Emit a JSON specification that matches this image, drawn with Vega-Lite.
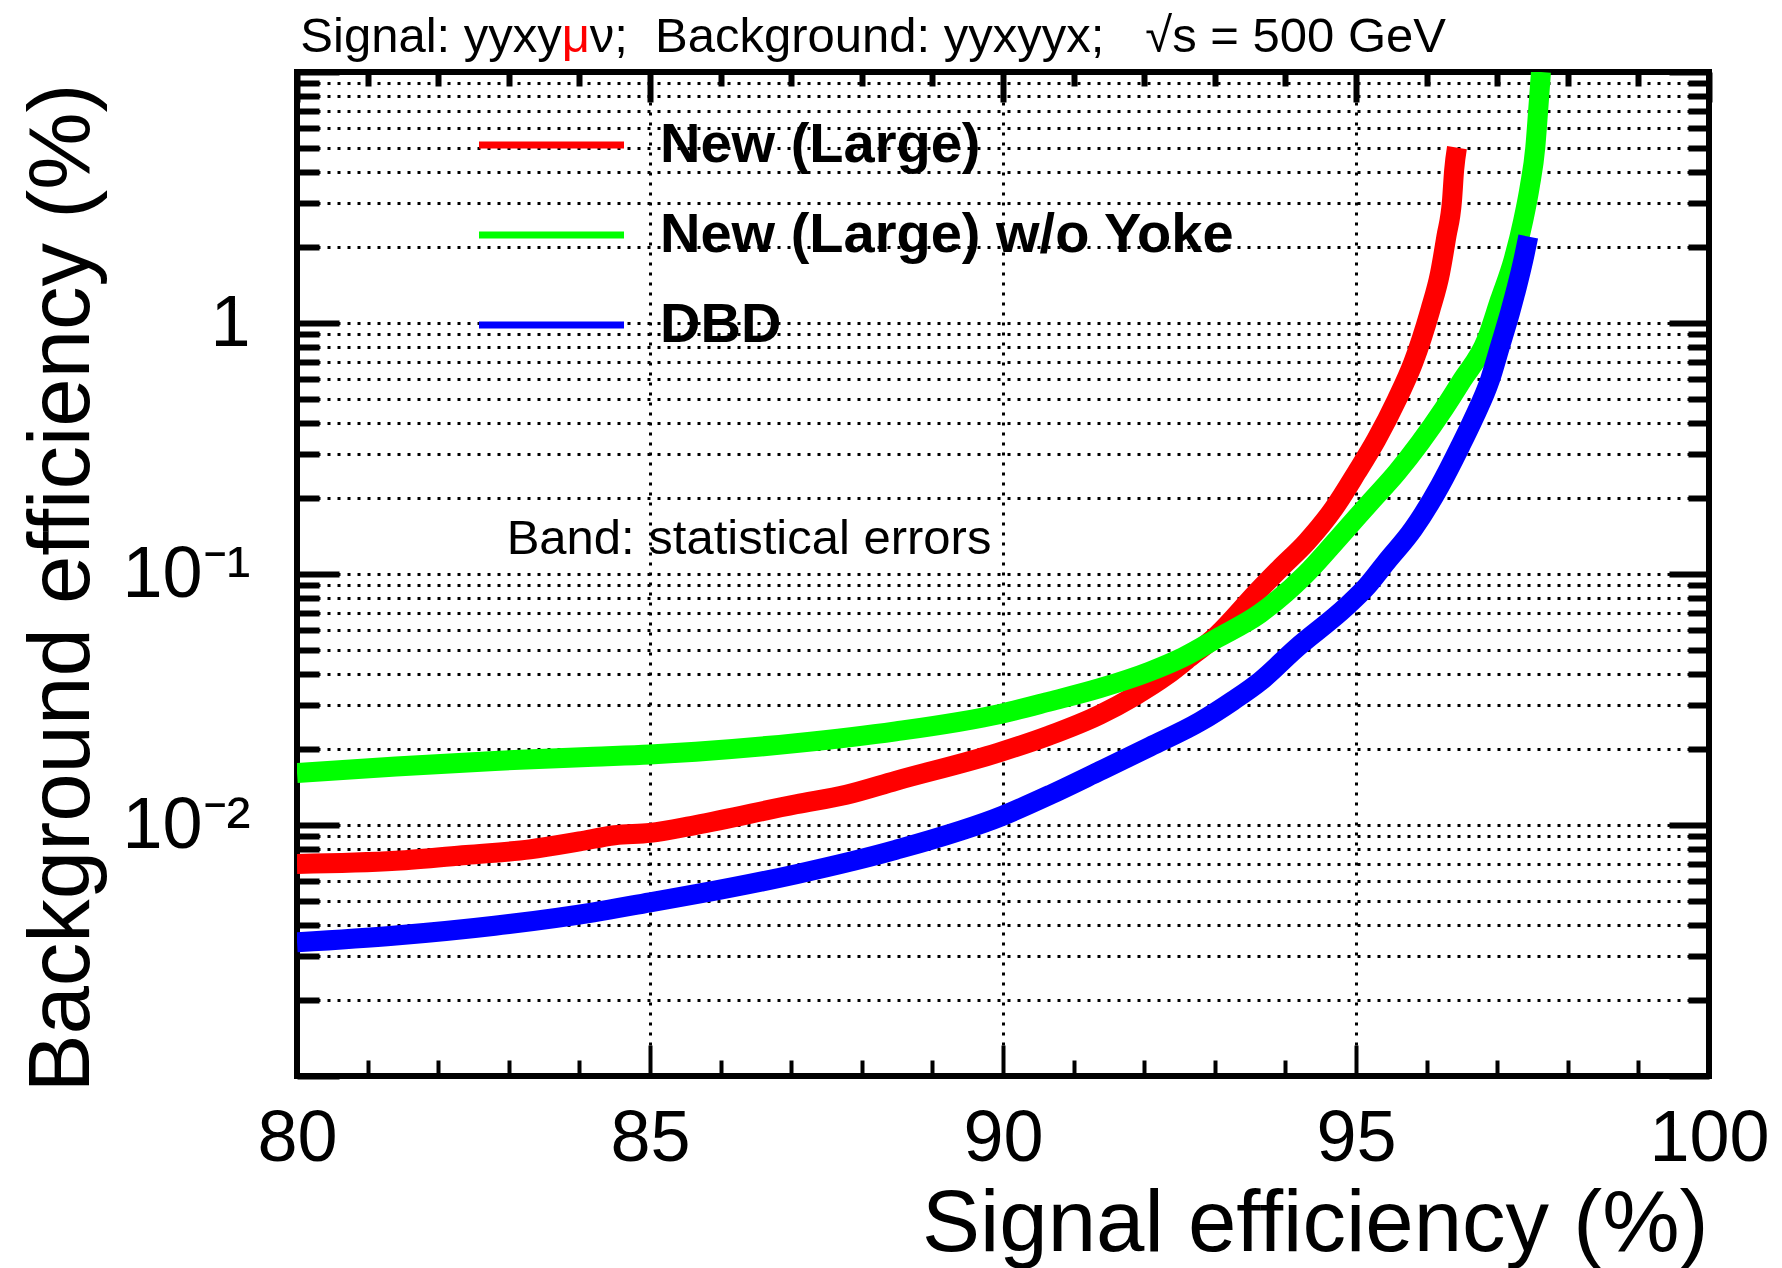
{
  "$schema": "https://vega.github.io/schema/vega-lite/v6.json",
  "width": 1412,
  "height": 1004,
  "autosize": {"type": "none"},
  "padding": {"left": 297, "top": 72, "right": 73, "bottom": 192},
  "background": "white",
  "config": {
    "font": "Liberation Sans",
    "view": {"stroke": "black", "strokeWidth": 6}
  },
  "datasets": {
    "curves": [
      {"detector": "New (Large)", "signal": 80.0, "background": 0.0070},
      {"detector": "New (Large)", "signal": 81.4, "background": 0.0072},
      {"detector": "New (Large)", "signal": 82.4, "background": 0.0076},
      {"detector": "New (Large)", "signal": 83.3, "background": 0.0080},
      {"detector": "New (Large)", "signal": 84.0, "background": 0.0086},
      {"detector": "New (Large)", "signal": 84.5, "background": 0.0091},
      {"detector": "New (Large)", "signal": 85.0, "background": 0.0093},
      {"detector": "New (Large)", "signal": 85.65, "background": 0.0100},
      {"detector": "New (Large)", "signal": 87.07, "background": 0.0121},
      {"detector": "New (Large)", "signal": 87.78, "background": 0.0132},
      {"detector": "New (Large)", "signal": 88.48, "background": 0.0150},
      {"detector": "New (Large)", "signal": 89.93, "background": 0.0194},
      {"detector": "New (Large)", "signal": 90.65, "background": 0.0227},
      {"detector": "New (Large)", "signal": 91.37, "background": 0.0275},
      {"detector": "New (Large)", "signal": 91.85, "background": 0.0325},
      {"detector": "New (Large)", "signal": 92.32, "background": 0.0395},
      {"detector": "New (Large)", "signal": 92.6, "background": 0.0455},
      {"detector": "New (Large)", "signal": 93.03, "background": 0.0570},
      {"detector": "New (Large)", "signal": 93.62, "background": 0.0860},
      {"detector": "New (Large)", "signal": 93.92, "background": 0.105},
      {"detector": "New (Large)", "signal": 94.3, "background": 0.134},
      {"detector": "New (Large)", "signal": 94.68, "background": 0.1815},
      {"detector": "New (Large)", "signal": 95.01, "background": 0.254},
      {"detector": "New (Large)", "signal": 95.29, "background": 0.344},
      {"detector": "New (Large)", "signal": 95.58, "background": 0.496},
      {"detector": "New (Large)", "signal": 95.81, "background": 0.694},
      {"detector": "New (Large)", "signal": 96.05, "background": 1.12},
      {"detector": "New (Large)", "signal": 96.19, "background": 1.578},
      {"detector": "New (Large)", "signal": 96.28, "background": 2.21},
      {"detector": "New (Large)", "signal": 96.36, "background": 3.08},
      {"detector": "New (Large)", "signal": 96.39, "background": 4.06},
      {"detector": "New (Large)", "signal": 96.43, "background": 5.0},

      {"detector": "New (Large) w/o Yoke", "signal": 80.0, "background": 0.0161},
      {"detector": "New (Large) w/o Yoke", "signal": 81.4, "background": 0.0171},
      {"detector": "New (Large) w/o Yoke", "signal": 82.8, "background": 0.0180},
      {"detector": "New (Large) w/o Yoke", "signal": 84.2, "background": 0.0187},
      {"detector": "New (Large) w/o Yoke", "signal": 85.0, "background": 0.0191},
      {"detector": "New (Large) w/o Yoke", "signal": 85.65, "background": 0.0196},
      {"detector": "New (Large) w/o Yoke", "signal": 87.07, "background": 0.0212},
      {"detector": "New (Large) w/o Yoke", "signal": 88.48, "background": 0.0236},
      {"detector": "New (Large) w/o Yoke", "signal": 89.96, "background": 0.0277},
      {"detector": "New (Large) w/o Yoke", "signal": 90.67, "background": 0.0311},
      {"detector": "New (Large) w/o Yoke", "signal": 91.37, "background": 0.0351},
      {"detector": "New (Large) w/o Yoke", "signal": 92.08, "background": 0.0409},
      {"detector": "New (Large) w/o Yoke", "signal": 92.55, "background": 0.0466},
      {"detector": "New (Large) w/o Yoke", "signal": 93.03, "background": 0.0554},
      {"detector": "New (Large) w/o Yoke", "signal": 93.64, "background": 0.0696},
      {"detector": "New (Large) w/o Yoke", "signal": 94.29, "background": 0.100},
      {"detector": "New (Large) w/o Yoke", "signal": 94.77, "background": 0.141},
      {"detector": "New (Large) w/o Yoke", "signal": 95.2, "background": 0.193},
      {"detector": "New (Large) w/o Yoke", "signal": 95.58, "background": 0.254},
      {"detector": "New (Large) w/o Yoke", "signal": 95.91, "background": 0.334},
      {"detector": "New (Large) w/o Yoke", "signal": 96.24, "background": 0.453},
      {"detector": "New (Large) w/o Yoke", "signal": 96.5, "background": 0.590},
      {"detector": "New (Large) w/o Yoke", "signal": 96.85, "background": 0.858},
      {"detector": "New (Large) w/o Yoke", "signal": 97.04, "background": 1.237},
      {"detector": "New (Large) w/o Yoke", "signal": 97.23, "background": 1.78},
      {"detector": "New (Large) w/o Yoke", "signal": 97.37, "background": 2.57},
      {"detector": "New (Large) w/o Yoke", "signal": 97.46, "background": 3.48},
      {"detector": "New (Large) w/o Yoke", "signal": 97.54, "background": 5.02},
      {"detector": "New (Large) w/o Yoke", "signal": 97.58, "background": 7.02},
      {"detector": "New (Large) w/o Yoke", "signal": 97.62, "background": 10.0},

      {"detector": "DBD", "signal": 80.0, "background": 0.00341},
      {"detector": "DBD", "signal": 81.4, "background": 0.00363},
      {"detector": "DBD", "signal": 82.8, "background": 0.00397},
      {"detector": "DBD", "signal": 84.2, "background": 0.00449},
      {"detector": "DBD", "signal": 85.0, "background": 0.00492},
      {"detector": "DBD", "signal": 85.65, "background": 0.00530},
      {"detector": "DBD", "signal": 87.07, "background": 0.00637},
      {"detector": "DBD", "signal": 88.48, "background": 0.00796},
      {"detector": "DBD", "signal": 90.0, "background": 0.0109},
      {"detector": "DBD", "signal": 90.67, "background": 0.0132},
      {"detector": "DBD", "signal": 91.37, "background": 0.0164},
      {"detector": "DBD", "signal": 92.08, "background": 0.0205},
      {"detector": "DBD", "signal": 92.79, "background": 0.0258},
      {"detector": "DBD", "signal": 93.26, "background": 0.0313},
      {"detector": "DBD", "signal": 93.64, "background": 0.0373},
      {"detector": "DBD", "signal": 94.15, "background": 0.0505},
      {"detector": "DBD", "signal": 94.86, "background": 0.074},
      {"detector": "DBD", "signal": 95.15, "background": 0.089},
      {"detector": "DBD", "signal": 95.43, "background": 0.1116},
      {"detector": "DBD", "signal": 95.81, "background": 0.151},
      {"detector": "DBD", "signal": 96.19, "background": 0.225},
      {"detector": "DBD", "signal": 96.47, "background": 0.320},
      {"detector": "DBD", "signal": 96.66, "background": 0.413},
      {"detector": "DBD", "signal": 96.9, "background": 0.596},
      {"detector": "DBD", "signal": 97.04, "background": 0.807},
      {"detector": "DBD", "signal": 97.18, "background": 1.096},
      {"detector": "DBD", "signal": 97.28, "background": 1.397},
      {"detector": "DBD", "signal": 97.37, "background": 1.78},
      {"detector": "DBD", "signal": 97.44, "background": 2.21}
    ]
  },
  "layer": [
    {
      "data": {"name": "curves"},
      "mark": {"type": "line", "strokeWidth": 20, "interpolate": "monotone", "clip": true, "strokeCap": "butt"},
      "encoding": {
        "x": {
          "field": "signal", "type": "quantitative",
          "scale": {"domain": [80, 100], "nice": false, "zero": false},
          "axis": {
            "orient": "bottom",
            "values": [80,81,82,83,84,85,86,87,88,89,90,91,92,93,94,95,96,97,98,99,100],
            "labelExpr": "datum.value % 5 === 0 ? datum.label : ''",
            "labelFontSize": 72, "labelColor": "black", "labelFont": "Liberation Sans",
            "labelBaseline": "alphabetic", "labelPadding": 115,
            "labelFlush": false, "labelOverlap": false, "labelBound": false,
            "tickSize": {"condition": {"test": "datum.value % 5 === 0", "value": -31}, "value": -16},
            "tickWidth": 4, "tickColor": "black",
            "domain": false,
            "grid": true, "gridColor": "black", "gridWidth": 3, "gridDash": [3, 7],
            "gridOpacity": {"condition": {"test": "datum.value % 5 === 0", "value": 1}, "value": 0},
            "title": "Signal efficiency (%)", "titleFontSize": 87, "titleFontWeight": "normal",
            "titleColor": "black", "titleFont": "Liberation Sans",
            "titleX": 1411, "titleY": 174, "titleAlign": "right", "titleBaseline": "alphabetic"
          }
        },
        "y": {
          "field": "background", "type": "quantitative",
          "scale": {"type": "log", "domain": [0.001, 10], "nice": false},
          "axis": {
            "orient": "left",
            "values": [0.001,0.002,0.003,0.004,0.005,0.006,0.007,0.008,0.009,0.01,0.02,0.03,0.04,0.05,0.06,0.07,0.08,0.09,0.1,0.2,0.3,0.4,0.5,0.6,0.7,0.8,0.9,1,2,3,4,5,6,7,8,9,10],
            "labelExpr": "datum.value === 1 ? '1' : datum.value === 0.1 ? '10⁻¹' : datum.value === 0.01 ? '10⁻²' : ''",
            "labelFontSize": 72, "labelColor": "black", "labelFont": "Liberation Sans",
            "labelBaseline": "middle", "labelPadding": 89,
            "labelFlush": false, "labelOverlap": false, "labelBound": false,
            "tickSize": {"condition": {"test": "indexof([0.001, 0.01, 0.1, 1, 10], datum.value) >= 0", "value": -42}, "value": -22},
            "tickWidth": 6, "tickColor": "black",
            "domain": false,
            "grid": true, "gridColor": "black", "gridWidth": 3, "gridDash": [3, 7],
            "title": "Background efficiency (%)", "titleFontSize": 87, "titleFontWeight": "normal",
            "titleColor": "black", "titleFont": "Liberation Sans", "titleAngle": 270,
            "titleX": -209, "titleY": 11, "titleAlign": "right", "titleBaseline": "alphabetic"
          }
        },
        "color": {
          "field": "detector", "type": "nominal",
          "scale": {"domain": ["New (Large)", "New (Large) w/o Yoke", "DBD"], "range": ["#ff0000", "#00ff00", "#0000ff"]},
          "legend": {
            "title": null, "orient": "none", "legendX": 226.5, "legendY": 45,
            "direction": "vertical", "padding": 0,
            "symbolType": "M-5,0H5", "symbolSize": 841, "symbolStrokeWidth": 7,
            "labelFontSize": 56, "labelFontWeight": "bold", "labelFont": "Liberation Sans",
            "labelColor": "black", "labelOffset": 80.5, "labelLimit": 1000, "rowPadding": 34
          }
        }
      }
    },
    {
      "data": {"name": "curves"},
      "mark": {"type": "line", "opacity": 0},
      "encoding": {
        "x": {
          "field": "signal", "type": "quantitative",
          "axis": {
            "orient": "top",
            "values": [80,81,82,83,84,85,86,87,88,89,90,91,92,93,94,95,96,97,98,99,100],
            "labels": false,
            "tickSize": {"condition": {"test": "datum.value % 5 === 0", "value": -30}, "value": -14},
            "tickWidth": 6, "tickColor": "black",
            "domain": false, "grid": false, "title": null
          }
        },
        "y": {
          "field": "background", "type": "quantitative",
          "axis": {
            "orient": "right",
            "values": [0.001,0.002,0.003,0.004,0.005,0.006,0.007,0.008,0.009,0.01,0.02,0.03,0.04,0.05,0.06,0.07,0.08,0.09,0.1,0.2,0.3,0.4,0.5,0.6,0.7,0.8,0.9,1,2,3,4,5,6,7,8,9,10],
            "labels": false,
            "tickSize": {"condition": {"test": "indexof([0.001, 0.01, 0.1, 1, 10], datum.value) >= 0", "value": -40}, "value": -21},
            "tickWidth": 6, "tickColor": "black",
            "domain": false, "grid": false, "title": null
          }
        },
        "detail": {"field": "detector"}
      }
    },
    {
      "data": {"values": [{}]},
      "mark": {"type": "text", "text": "Signal: yyxy", "align": "right", "baseline": "alphabetic", "fontSize": 49, "font": "Liberation Sans", "color": "black"},
      "encoding": {
        "x": {"datum": 83.75, "type": "quantitative", "axis": null},
        "y": {"datum": 12.0, "type": "quantitative", "axis": null}
      }
    },
    {
      "data": {"values": [{}]},
      "mark": {"type": "text", "text": "μ", "align": "left", "baseline": "alphabetic", "fontSize": 49, "font": "Liberation Sans", "color": "#ff0000"},
      "encoding": {
        "x": {"datum": 83.75, "type": "quantitative", "axis": null},
        "y": {"datum": 12.0, "type": "quantitative", "axis": null}
      }
    },
    {
      "data": {"values": [{}]},
      "mark": {"type": "text", "text": "ν;\u00a0 Background: yyxyyx;\u00a0\u00a0 √s = 500 GeV", "align": "left", "baseline": "alphabetic", "dx": 28, "fontSize": 49, "font": "Liberation Sans", "color": "black"},
      "encoding": {
        "x": {"datum": 83.75, "type": "quantitative", "axis": null},
        "y": {"datum": 12.0, "type": "quantitative", "axis": null}
      }
    },
    {
      "data": {"values": [{}]},
      "mark": {"type": "text", "text": "Band: statistical errors", "align": "left", "baseline": "alphabetic", "fontSize": 49, "font": "Liberation Sans", "color": "black"},
      "encoding": {
        "x": {"datum": 82.97, "type": "quantitative", "axis": null},
        "y": {"datum": 0.120, "type": "quantitative", "axis": null}
      }
    }
  ],
  "resolve": {"axis": {"x": "independent", "y": "independent"}}
}
